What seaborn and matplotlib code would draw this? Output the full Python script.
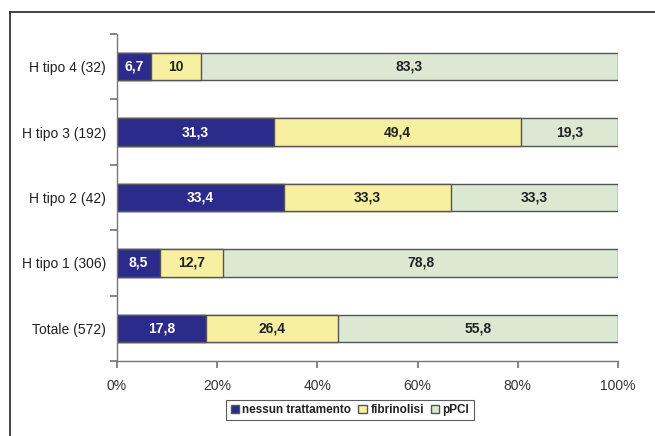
import numpy as np
import pandas as pd
import matplotlib
matplotlib.use("Agg")
import matplotlib.pyplot as plt
import seaborn as sns
from matplotlib.patches import Patch
from matplotlib.lines import Line2D

# Dati
categorie = ["H tipo 4 (32)", "H tipo 3 (192)", "H tipo 2 (42)", "H tipo 1 (306)", "Totale (572)"]
nessun_trattamento = [6.7, 31.3, 33.4, 8.5, 17.8]
fibrinolisi = [10, 49.4, 33.3, 12.7, 26.4]
ppci = [83.3, 19.3, 33.3, 78.8, 55.8]
serie = ["nessun trattamento", "fibrinolisi", "pPCI"]
colori = ["#2b2b8c", "#f7f0a0", "#dce8d2"]
x_ticks = [0, 20, 40, 60, 80, 100]

df = pd.DataFrame({
    "categoria": categorie,
    "nessun trattamento": nessun_trattamento,
    "fibrinolisi": fibrinolisi,
    "pPCI": ppci,
})
cum = df[serie].cumsum(axis=1)
start = cum - df[serie]

sns.set_theme(style="white")
plt.rcParams["font.family"] = ["Liberation Sans", "DejaVu Sans"]

fig = plt.figure(figsize=(6.55, 4.36), dpi=100)
ax = fig.add_axes([117 / 655, 1 - 361 / 436, 501 / 655, 327 / 436])

# barre impilate: si disegnano le somme cumulative dalla piu' lunga alla piu' corta
for s, c in reversed(list(zip(serie, colori))):
    sns.barplot(x=cum[s], y=df["categoria"], color=c, orient="h", width=0.42,
                edgecolor="#555555", linewidth=1.0, ax=ax, saturation=1)

# etichette dei valori
for i in range(len(categorie)):
    for s, c in zip(serie, colori):
        v = df.loc[i, s]
        xc = start.loc[i, s] + v / 2
        testo = f"{v:g}".replace(".", ",")
        col = "white" if s == "nessun trattamento" else "#222222"
        ax.text(xc, i, testo, ha="center", va="center", fontsize=10,
                fontweight="bold", color=col)

ax.set_xlim(0, 100)
ax.set_ylim(len(categorie) - 0.5, -0.5)
ax.set_xticks(x_ticks)
ax.set_xticklabels([f"{t}%" for t in x_ticks], fontsize=10, color="#333333")
ax.set_yticks(np.arange(-0.5, len(categorie) + 0.5, 1))
ax.set_yticklabels([])
ax.set_yticks(np.arange(len(categorie)), minor=True)
ax.set_yticklabels(categorie, minor=True, fontsize=10, color="#222222")
ax.tick_params(axis="y", which="major", length=5, color="#777777", direction="out", left=True)
ax.tick_params(axis="y", which="minor", length=0, pad=8)
ax.tick_params(axis="x", length=5, color="#777777", direction="out", bottom=True, pad=8)
ax.set_xlabel("")
ax.set_ylabel("")
for sp in ["top", "right"]:
    ax.spines[sp].set_visible(False)
for sp in ["left", "bottom"]:
    ax.spines[sp].set_color("#777777")
    ax.spines[sp].set_linewidth(1.0)

handles = [Patch(facecolor=c, edgecolor="#555555", label=s) for s, c in zip(serie, colori)]
leg = fig.legend(handles=handles, loc="center", bbox_to_anchor=(350 / 655, 1 - 410 / 436),
                 ncol=3, frameon=True, fancybox=False, handlelength=0.7,
                 handleheight=0.7, handletextpad=0.3, columnspacing=0.6,
                 borderpad=0.35, prop={"weight": "bold", "size": 8.5})
leg.get_frame().set_edgecolor("#333333")
leg.get_frame().set_linewidth(0.8)
for t in leg.get_texts():
    t.set_color("#222222")

# cornice esterna
fig.add_artist(Line2D([10 / 655, 10 / 655], [0, 1 - 12 / 436], transform=fig.transFigure,
                      color="#222222", linewidth=1.2))
fig.add_artist(Line2D([10 / 655, 1], [1 - 12 / 436, 1 - 12 / 436], transform=fig.transFigure,
                      color="#222222", linewidth=1.2))

fig.savefig("out.png", dpi=100)
